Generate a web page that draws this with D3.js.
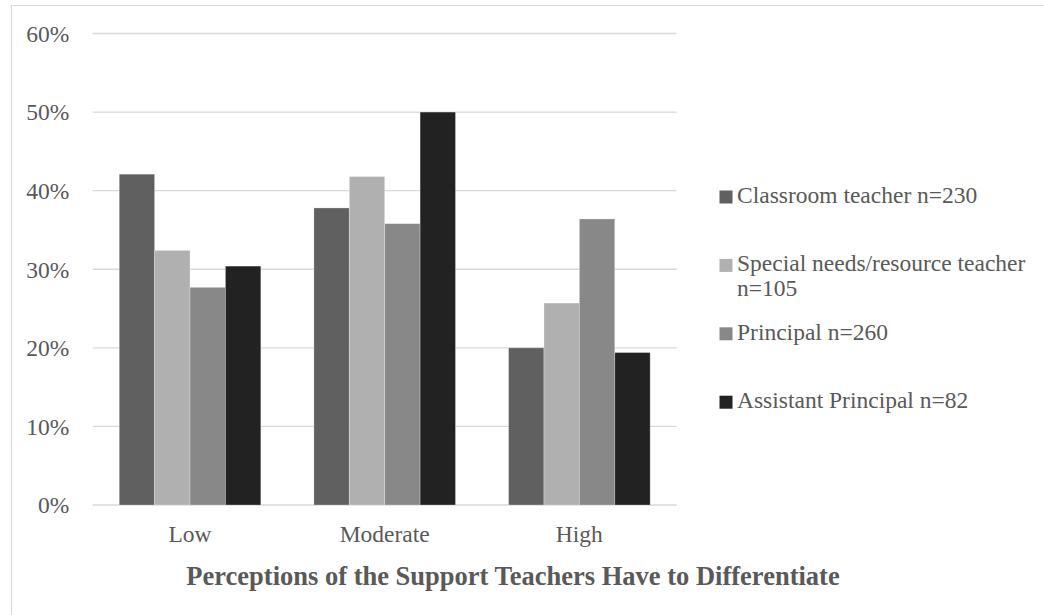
<!DOCTYPE html>
<html>
<head>
<meta charset="utf-8">
<script src="https://cdn.jsdelivr.net/npm/d3@7"></script>
<style>
  html, body { margin: 0; padding: 0; background: #ffffff; }
  svg { display: block; }
  text { font-family: "Liberation Serif", "Times New Roman", serif; fill: #595959; }
</style>
</head>
<body>
<svg id="chart" width="1044" height="615"></svg>
<script>
const categories = ["Low", "Moderate", "High"];
const seriesNames = ["Classroom teacher n=230", "Special needs/resource teacher n=105", "Principal n=260", "Assistant Principal n=82"];
const classroomValues = [42.1, 37.8, 20.0];
const specialValues = [32.4, 41.8, 25.7];
const principalValues = [27.7, 35.8, 36.4];
const assistantValues = [30.4, 50.0, 19.4];
const yTicks = [0, 10, 20, 30, 40, 50, 60];
const seriesColors = ["#606060", "#b0b0b0", "#888888", "#222222"];
const axisTitle = "Perceptions of the Support Teachers Have to Differentiate";

const seriesValues = [classroomValues, specialValues, principalValues, assistantValues];

const svg = d3.select("#chart");

// chart border (left + top visible)
svg.append("path")
  .attr("d", "M11.5,615 L11.5,5.5 L1044,5.5")
  .attr("fill", "none").attr("stroke", "#d9d9d9").attr("stroke-width", 1.2);

const plot = { left: 92.7, right: 676.7, top: 33.5, bottom: 505 };

const x0 = d3.scaleBand().domain(categories).range([plot.left, plot.right]).paddingInner(1.5 / 5.5).paddingOuter(0.75 / 5.5);
const x1 = d3.scaleBand().domain(d3.range(seriesNames.length)).range([0, x0.bandwidth()]);
const y = d3.scaleLinear().domain([0, 60]).range([plot.bottom, plot.top]);

// gridlines
svg.append("g").selectAll("line").data(yTicks).join("line")
  .attr("x1", plot.left).attr("x2", plot.right)
  .attr("y1", d => y(d)).attr("y2", d => y(d))
  .attr("stroke", "#d9d9d9").attr("stroke-width", 1.3);

// y tick labels
const yAxis = d3.axisLeft(y).tickValues(yTicks).tickFormat(d => d + "%").tickSize(0).tickPadding(0);
const yG = svg.append("g").attr("transform", `translate(${plot.left - 23.4},0)`).call(yAxis);
yG.select(".domain").remove();
yG.selectAll("text").attr("font-size", "23.5px").attr("fill", "#595959")
  .attr("font-family", '"Liberation Serif", "Times New Roman", serif').attr("dy", "0.33em");

// bars
const groups = svg.append("g").selectAll("g").data(categories).join("g")
  .attr("transform", d => `translate(${x0(d)},0)`);
groups.selectAll("rect").data((c, ci) => seriesValues.map((vals, si) => ({ si, v: vals[ci] }))).join("rect")
  .attr("x", d => x1(d.si))
  .attr("width", x1.bandwidth())
  .attr("y", d => y(d.v))
  .attr("height", d => y(0) - y(d.v))
  .attr("fill", d => seriesColors[d.si])
  .attr("stroke", "#ffffff").attr("stroke-opacity", 0.35).attr("stroke-width", 0.8);

// x labels
const xAxis = d3.axisBottom(x0).tickSize(0).tickPadding(0);
const xG = svg.append("g").attr("transform", `translate(0,${plot.bottom})`).call(xAxis);
xG.select(".domain").remove();
xG.selectAll("text").attr("font-size", "23.5px").attr("fill", "#595959")
  .attr("font-family", '"Liberation Serif", "Times New Roman", serif')
  .attr("dy", null).attr("y", 36.5);

// axis title
svg.append("text").attr("x", 513).attr("y", 585).attr("text-anchor", "middle")
  .attr("font-size", "26.5px").attr("font-weight", "bold").text(axisTitle);

// legend
const legend = svg.append("g");
const legendX = 719.5, legendTextX = 737, legendY0 = 203, legendStep = 68.4, maxW = 300;
seriesNames.forEach((name, i) => {
  const by = legendY0 + i * legendStep;
  legend.append("rect").attr("x", legendX).attr("y", by - 12.5).attr("width", 13).attr("height", 13)
    .attr("fill", seriesColors[i]);
  const t = legend.append("text").attr("x", legendTextX).attr("y", by).attr("font-size", "23.5px");
  const words = name.split(" ");
  let line = [];
  let tspan = t.append("tspan").attr("x", legendTextX).attr("y", by);
  let lineNo = 0;
  words.forEach(w => {
    line.push(w);
    tspan.text(line.join(" "));
    if (tspan.node().getComputedTextLength() > maxW && line.length > 1) {
      line.pop();
      tspan.text(line.join(" "));
      line = [w];
      lineNo++;
      tspan = t.append("tspan").attr("x", legendTextX).attr("y", by + lineNo * 25).text(w);
    }
  });
});
</script>
</body>
</html>
